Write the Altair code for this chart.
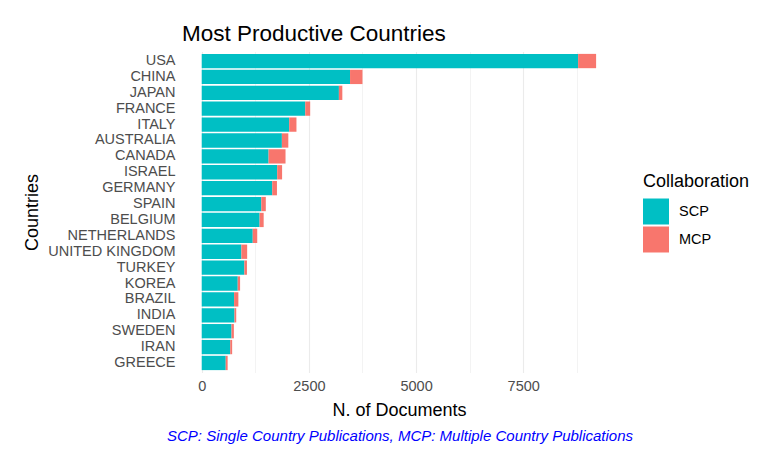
import altair as alt
import pandas as pd

countries = ["USA", "CHINA", "JAPAN", "FRANCE", "ITALY", "AUSTRALIA", "CANADA",
             "ISRAEL", "GERMANY", "SPAIN", "BELGIUM", "NETHERLANDS", "UNITED KINGDOM",
             "TURKEY", "KOREA", "BRAZIL", "INDIA", "SWEDEN", "IRAN", "GREECE"]
scp = [8780, 3460, 3200, 2415, 2040, 1870, 1560, 1760, 1645, 1390, 1350, 1190,
       925, 995, 840, 755, 765, 695, 665, 560]
mcp = [420, 290, 80, 115, 170, 150, 395, 115, 110, 105, 95, 105,
       135, 60, 55, 100, 40, 55, 45, 45]
series = ["SCP", "MCP"]
colors = ["#00BFC4", "#F8766D"]
x_ticks = [0, 1250, 2500, 3750, 5000, 6250, 7500, 8750]
caption = ["SCP: Single Country Publications, MCP: Multiple Country Publications"]

rows = []
for c, s, m in zip(countries, scp, mcp):
    rows.append({"country": c, "type": "SCP", "n": s, "ord": 0})
    rows.append({"country": c, "type": "MCP", "n": m, "ord": 1})
df = pd.DataFrame(rows)

FONT = "Liberation Sans"

bars = alt.Chart(df).mark_bar().encode(
    y=alt.Y("country:N", sort=countries,
            scale=alt.Scale(paddingInner=0.1, paddingOuter=0.15),
            axis=alt.Axis(title="Countries", bandPosition=0.5, ticks=False, tickSize=0,
                          domain=False, labelPadding=7, labelFontSize=14.5,
                          labelColor="#4D4D4D", labelFont=FONT, gridColor="#EBEBEB",
                          titleFont=FONT, titleFontSize=18, titleFontWeight="normal",
                          titleColor="black", titleX=-150, titleY=160.5,
                          titleAngle=270, titleAlign="center", titleBaseline="middle")),
    x=alt.X("n:Q", stack="zero",
            scale=alt.Scale(domain=[-460, 9664], nice=False, zero=False),
            axis=alt.Axis(title="N. of Documents", values=x_ticks,
                          labelExpr="datum.value % 2500 === 0 ? format(datum.value, 'd') : ''",
                          ticks=False, tickSize=0, domain=False, labelPadding=7,
                          labelFontSize=14.5, labelColor="#4D4D4D", labelFont=FONT,
                          gridColor="#EBEBEB",
                          gridWidth={"condition": {"test": "datum.value % 2500 === 0", "value": 1.1},
                                     "value": 0.6},
                          titleFont=FONT, titleFontSize=18, titleFontWeight="normal",
                          titleColor="black", titleX=217, titleY=37.5,
                          titleBaseline="middle", titleAlign="center")),
    color=alt.Color("type:N", scale=alt.Scale(domain=series, range=colors),
                    legend=alt.Legend(title="Collaboration", orient="none",
                                      legendX=461, legendY=121,
                                      symbolType="square", symbolSize=676,
                                      symbolStrokeWidth=0, symbolOpacity=1,
                                      rowPadding=2, labelOffset=10,
                                      titleFont=FONT, titleFontSize=18,
                                      titleFontWeight="normal", titleColor="black",
                                      titlePadding=8,
                                      labelFont=FONT, labelFontSize=14.5,
                                      labelColor="black")),
    order=alt.Order("ord:Q", sort="ascending"),
)

cap = alt.Chart(pd.DataFrame({"caption": caption})).mark_text(
    font=FONT, fontSize=15, fontStyle="italic", color="blue",
    align="center", baseline="middle"
).encode(text="caption:N", x=alt.value(218), y=alt.value(384.5))

chart = alt.layer(bars, cap).properties(
    width=434, height=321,
    title=alt.TitleParams("Most Productive Countries", anchor="start", frame="group",
                          font=FONT, fontSize=22.5, fontWeight="normal", color="black",
                          offset=6),
    autosize=alt.AutoSizeParams(type="none"),
    padding={"left": 174, "top": 43.5, "right": 144, "bottom": 80},
).configure_view(stroke=None)

chart.save("out.html", embed_options={"renderer": "svg", "actions": False})
